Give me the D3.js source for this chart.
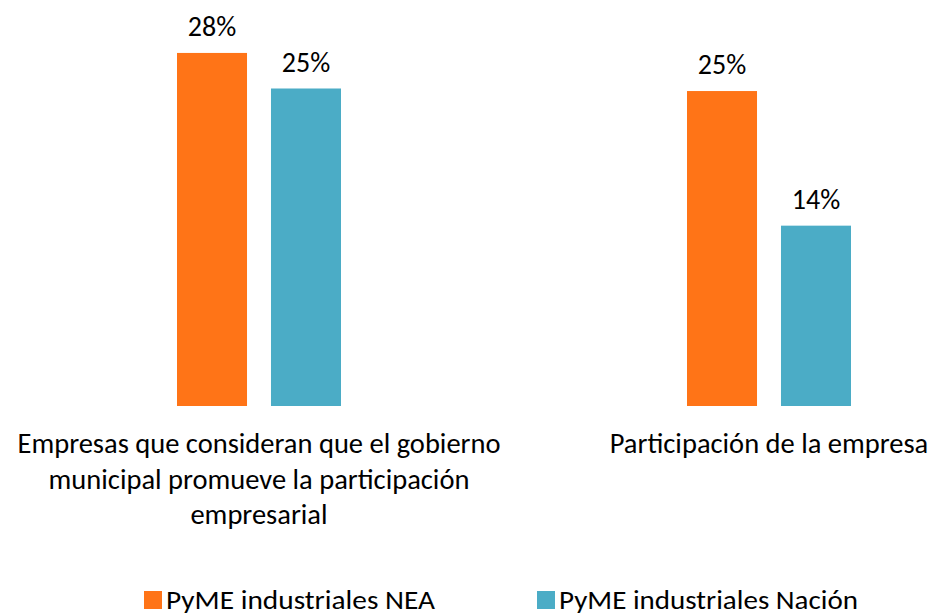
<!doctype html>
<html lang="es">
<head>
<meta charset="utf-8">
<title>PyME industriales</title>
<style>
  html, body { margin: 0; padding: 0; background: #fff; }
  svg { display: block; font-family: Carlito, Lato, "Open Sans", sans-serif; }
</style>
</head>
<body>
<svg width="936" height="616"></svg>
<script src="https://d3js.org/d3.v7.min.js"></script>
<script>
// categories (label lines) and series values
var categories = ["gobierno", "participacion"];
var categoryLines = [
  ["Empresas que consideran que el gobierno", "municipal promueve la participación", "empresarial"],
  ["Participación de la empresa"]
];
var seriesNames = ["PyME industriales NEA", "PyME industriales Nación"];
var seriesColors = ["#FF7417", "#4BACC6"];
var valuesNEA = [27.8, 24.8];
var valuesNacion = [25.0, 14.2];
var valueLabels = [["28%", "25%"], ["25%", "14%"]];

var svg = d3.select("svg");
var baseY = 406;

var x0 = d3.scalePoint().domain(categories).range([259, 769]);
var x1 = d3.scaleBand().domain(seriesNames).range([-82, 82]).paddingInner(0.255);
var y = d3.scaleLinear().domain([0, 10]).range([baseY, baseY - 127]);

var rows = categories.map(function(c, i) {
  return { cat: c, vals: [valuesNEA[i], valuesNacion[i]], labels: valueLabels[i], lines: categoryLines[i] };
});

var g = svg.selectAll("g.cat").data(rows).enter().append("g")
  .attr("class", "cat")
  .attr("transform", function(d) { return "translate(" + x0(d.cat) + ",0)"; });

g.selectAll("rect").data(function(d) {
    return d.vals.map(function(v, j) { return { s: seriesNames[j], v: v, lab: d.labels[j], c: seriesColors[j] }; });
  }).enter().append("rect")
  .attr("x", function(d) { return x1(d.s); })
  .attr("width", x1.bandwidth())
  .attr("y", function(d) { return y(d.v); })
  .attr("height", function(d) { return baseY - y(d.v); })
  .attr("fill", function(d) { return d.c; });

g.selectAll("text.val").data(function(d) {
    return d.vals.map(function(v, j) { return { s: seriesNames[j], v: v, lab: d.labels[j] }; });
  }).enter().append("text")
  .attr("class", "val")
  .attr("x", function(d) { return x1(d.s) + x1.bandwidth() / 2; })
  .attr("y", function(d) { return y(d.v) - 17; })
  .attr("text-anchor", "middle")
  .attr("font-size", 28)
  .attr("fill", "#000")
  .text(function(d) { return d.lab; });

g.selectAll("text.cl").data(function(d) { return d.lines; }).enter().append("text")
  .attr("class", "cl")
  .attr("x", 0)
  .attr("y", function(d, i) { return 453 + i * 35.5; })
  .attr("text-anchor", "middle")
  .attr("font-size", 28.5)
  .attr("fill", "#000")
  .text(function(d) { return d; });

// legend at the bottom
var legendX = [144, 537];
var legendLen = [269, 299];
var lg = svg.selectAll("g.leg").data(seriesNames).enter().append("g")
  .attr("class", "leg")
  .attr("transform", function(d, i) { return "translate(" + legendX[i] + ",591)"; });
lg.append("rect").attr("width", 18).attr("height", 18)
  .attr("fill", function(d, i) { return seriesColors[i]; });
lg.append("text").attr("x", 22).attr("y", 18)
  .attr("font-size", 27).attr("fill", "#000")
  .attr("textLength", function(d, i) { return legendLen[i]; })
  .attr("lengthAdjust", "spacingAndGlyphs")
  .text(function(d) { return d; });
</script>
</body>
</html>
